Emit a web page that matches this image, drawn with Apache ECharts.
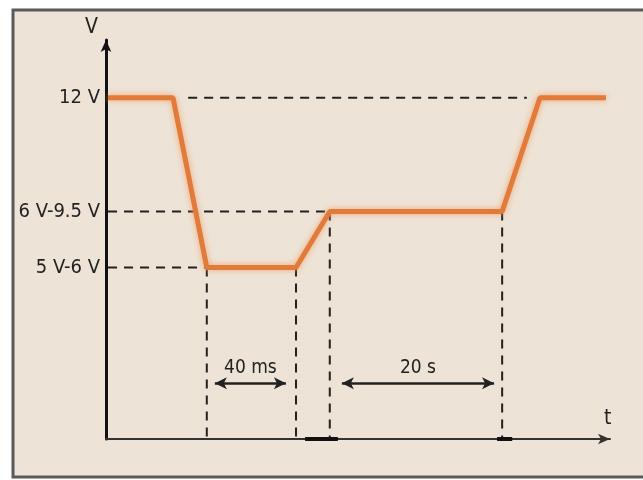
<!DOCTYPE html>
<html>
<head>
<meta charset="utf-8">
<script src="https://cdn.jsdelivr.net/npm/echarts@6/dist/echarts.min.js"></script>
<style>
  html, body { margin: 0; padding: 0; background: #fff; }
  #chart { width: 643px; height: 480px; }
</style>
</head>
<body>
<div id="chart"></div>
<script>
// voltage levels (arbitrary scale 0..100) and their tick labels
var levelValues = [85.5, 57, 43];
var levelLabels = ['12 V', '6 V-9.5 V', '5 V-6 V'];

// supply voltage trace (time in arbitrary units 0..100)
var signalT = [0.4, 13.3, 20.0, 37.7, 44.4, 78.6, 86.1, 99.2];
var signalV = [85.5, 85.5, 43, 43, 57, 57, 85.5, 85.5];

// dashed guide lines: [x1, y1, x2, y2]
var guides = [
  [16.3, 85.5, 83.5, 85.5],
  [0.4, 57, 44.4, 57],
  [0.4, 43, 20.0, 43],
  [20.0, 43, 20.0, 0],
  [37.7, 43, 37.7, 0],
  [44.4, 57, 44.4, 0],
  [78.6, 57, 78.6, 0]
];

// thick marks on the time axis: [from, to]
var axisMarks = [[39.5, 46.0], [77.6, 80.6]];

// duration arrows
var spanLabels = ['40 ms', '20 s'];
var spanFrom = [21.6, 46.8];
var spanTo = [35.7, 77.0];
var spanLevel = 14;

var font = "'DejaVu Sans Condensed', 'Liberation Sans Narrow', sans-serif";
var chart = echarts.init(document.getElementById('chart'));

var series = [];

guides.forEach(function (g) {
  series.push({
    type: 'line',
    data: [[g[0], g[1]], [g[2], g[3]]],
    symbol: 'none',
    silent: true,
    lineStyle: { color: '#222', width: 2, type: [9, 7] },
    z: 2
  });
});

axisMarks.forEach(function (m) {
  series.push({
    type: 'line',
    data: [[m[0], 0], [m[1], 0]],
    symbol: 'none',
    silent: true,
    lineStyle: { color: '#111', width: 4 },
    z: 4
  });
});

series.push({
  type: 'line',
  data: signalT.map(function (t, i) { return [t, signalV[i]]; }),
  symbol: 'none',
  lineStyle: {
    color: '#e27a3a', width: 5,
    shadowColor: 'rgba(240,150,90,0.8)', shadowBlur: 6
  },
  z: 5,
  markLine: {
    silent: true,
    symbol: ['arrow', 'arrow'],
    symbolSize: [9, 12],
    lineStyle: { color: '#222', width: 2.5, type: 'solid' },
    label: {
      show: true, position: 'middle', color: '#222',
      fontFamily: font, fontSize: 19, distance: 6,
      formatter: function (p) { return p.name; }
    },
    data: spanLabels.map(function (name, i) {
      return [
        { name: name, coord: [spanFrom[i], spanLevel] },
        { coord: [spanTo[i], spanLevel] }
      ];
    })
  }
});

chart.setOption({
  backgroundColor: '#fff',
  animation: false,
  graphic: [{
    type: 'rect',
    shape: { x: 13, y: 10, width: 640, height: 467 },
    style: { fill: '#ede4d7', stroke: '#5a5a5a', lineWidth: 3 },
    z: -10
  }],
  grid: { left: 106, right: 33, top: 40, bottom: 41 },
  xAxis: {
    type: 'value', min: 0, max: 100,
    name: 't', nameLocation: 'end', nameGap: -6,
    nameTextStyle: { fontFamily: font, fontSize: 21, color: '#222', verticalAlign: 'bottom', padding: [0, 0, 10, 0] },
    axisLine: { lineStyle: { color: '#333', width: 2 }, symbol: ['none', 'arrow'], symbolSize: [8, 12] },
    axisTick: { show: false },
    axisLabel: { show: false },
    splitLine: { show: false }
  },
  yAxis: {
    type: 'value', min: 0, max: 100,
    name: 'V', nameLocation: 'end', nameGap: 2,
    nameTextStyle: { fontFamily: font, fontSize: 21, color: '#222', align: 'right', padding: [0, 8, 0, 0] },
    axisLine: { lineStyle: { color: '#111', width: 3 }, symbol: ['none', 'arrow'], symbolSize: [8, 12] },
    axisTick: { show: false },
    axisLabel: {
      customValues: levelValues,
      margin: 6, color: '#222', fontFamily: font, fontSize: 20,
      formatter: function (v) {
        var i = levelValues.indexOf(v);
        return i >= 0 ? levelLabels[i] : '';
      }
    },
    splitLine: { show: false }
  },
  series: series
});
</script>
</body>
</html>
